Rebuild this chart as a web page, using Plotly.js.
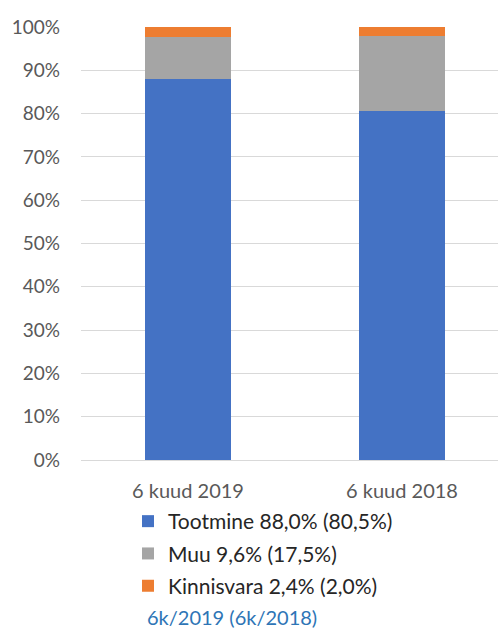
<!DOCTYPE html>
<html><head><meta charset="utf-8">
<script src="https://cdn.plot.ly/plotly-3.0.1.min.js"></script>
<style>html,body{margin:0;padding:0;background:#fff;}#chart{width:498px;height:628px;}</style>
</head><body><div id="chart"></div>
<script>
const categories = ["6 kuud 2019", "6 kuud 2018"];
const tootmine = [0.880, 0.805];
const muu = [0.096, 0.175];
const kinnisvara = [0.024, 0.020];
const seriesNames = ["Tootmine 88,0% (80,5%)", "Muu 9,6% (17,5%)", "Kinnisvara 2,4% (2,0%)"];
const footnote = "6k/2019 (6k/2018)";

const W = 498, H = 628;
const mL = 81, mR = 0, mT = 27, mB = 168;
const pw = W - mL - mR, ph = H - mT - mB;
const font = "Lato, 'Open Sans', sans-serif";

const mk = (y, name, color, g) => ({
  type: 'bar', x: categories, y: y, name: name, width: 0.40,
  marker: {color: color, line: {width: 0}}, legendgroup: g, hoverinfo: 'skip'
});
const data = [
  mk(tootmine, seriesNames[0], '#4472C4', 'a'),
  mk(muu, seriesNames[1], '#A5A5A5', 'b'),
  mk(kinnisvara, seriesNames[2], '#ED7D31', 'c')
];
const layout = {
  width: W, height: H,
  margin: {l: mL, r: mR, t: mT, b: mB, pad: 0},
  barmode: 'stack',
  paper_bgcolor: '#fff', plot_bgcolor: '#fff',
  font: {family: font, color: '#595959', size: 19},
  xaxis: {
    type: 'category', range: [-0.5, -0.5 + pw / 214],
    showgrid: false, zeroline: false, showline: false, ticks: '',
    ticklabelstandoff: 17, tickfont: {size: 20, color: '#595959'}
  },
  yaxis: {
    range: [0, 1], dtick: 0.1, tickformat: '.0%',
    showgrid: true, gridcolor: '#D9D9D9', gridwidth: 1,
    zeroline: true, zerolinecolor: '#D9D9D9', zerolinewidth: 1,
    showline: false, ticks: '', ticklabelstandoff: 20,
    tickfont: {size: 19, color: '#595959'}
  },
  showlegend: true,
  legend: {
    orientation: 'v', traceorder: 'grouped', tracegroupgap: 2,
    x: (128 - mL) / pw, xanchor: 'left',
    y: -(501 - 460) / ph, yanchor: 'top',
    font: {size: 21, color: '#262626', family: font},
    itemwidth: 30, bgcolor: 'rgba(0,0,0,0)'
  },
  annotations: [{
    text: footnote, xref: 'paper', yref: 'paper',
    x: (145 - mL) / pw, y: -(617 - 460) / ph, xanchor: 'left', yanchor: 'middle',
    showarrow: false, font: {size: 20, color: '#2E75B6', family: font}
  }]
};
Plotly.newPlot('chart', data, layout, {displayModeBar: false, staticPlot: true});
</script></body></html>
